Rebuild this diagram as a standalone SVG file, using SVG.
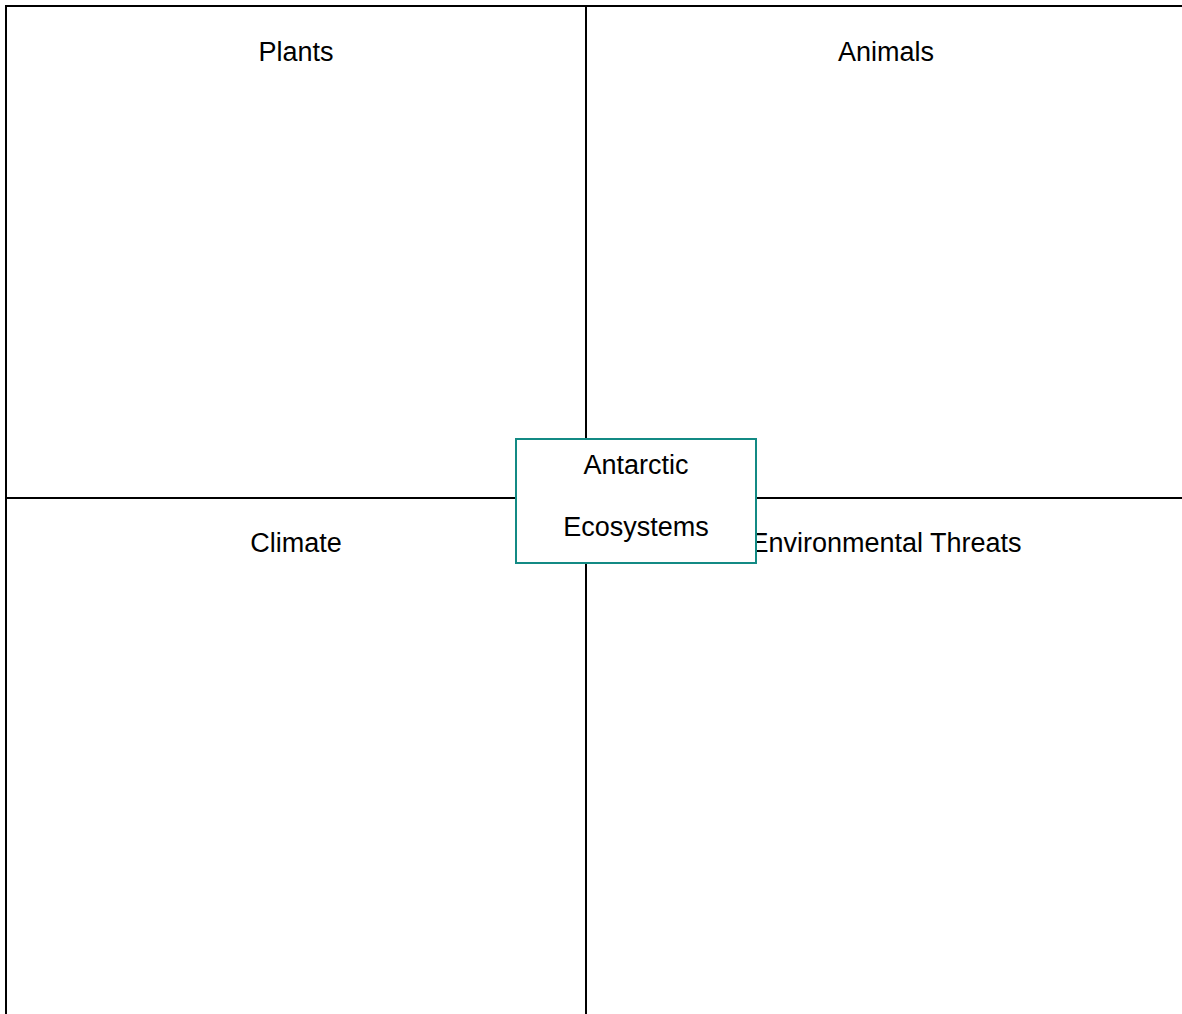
<svg xmlns="http://www.w3.org/2000/svg" width="1182" height="1014" viewBox="0 0 1182 1014">
<style>
.line{stroke:#000;stroke-width:2;fill:none}
.lbl{font-family:"Liberation Sans",Arial,sans-serif;font-size:27px;fill:#000;text-anchor:middle}
.ctr{font-family:"Liberation Sans",Arial,sans-serif;font-size:27px;fill:#000;text-anchor:middle}
.box{fill:#fff;stroke:#138a84;stroke-width:2}
</style>
<rect width="1182" height="1014" fill="#fff"/>
<g id="connectors">
<path class="line" d="M6,1014 V6 H1182"/>
<path class="line" d="M586,6 V1014"/>
<path class="line" d="M6,498 H1182"/>
</g>
<g id="plants"><text class="lbl" x="296" y="61">Plants</text></g>
<g id="animals"><text class="lbl" x="886" y="61">Animals</text></g>
<g id="climate"><text class="lbl" x="296" y="552">Climate</text></g>
<g id="threats"><text class="lbl" x="886" y="552">Environmental Threats</text></g>
<g id="center">
<rect class="box" x="516" y="439" width="240" height="124"/>
<text class="ctr" x="636" y="474">Antarctic</text>
<text class="ctr" x="636" y="536">Ecosystems</text>
</g>
</svg>
